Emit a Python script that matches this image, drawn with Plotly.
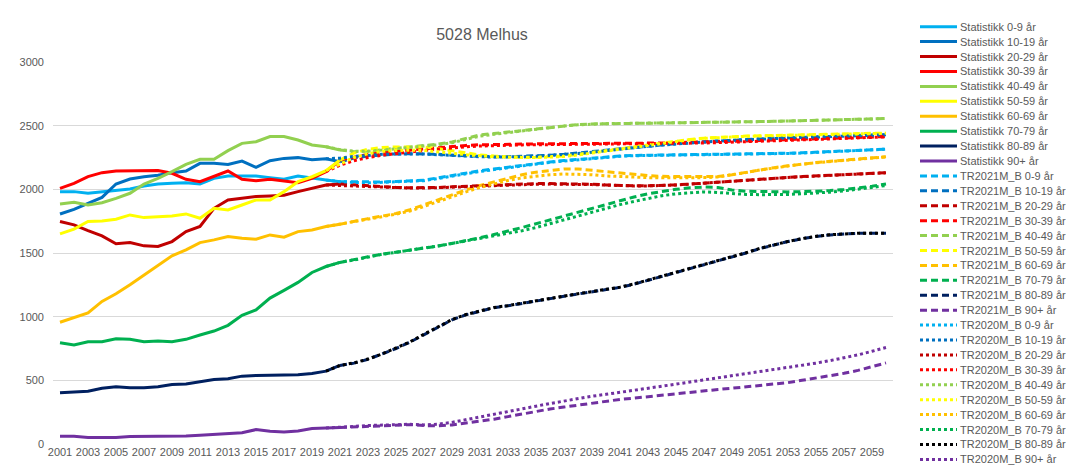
import plotly.graph_objects as go

# ---------------- data ----------------
years_stat = list(range(2001, 2022))
years_tr2021 = list(range(2021, 2061))
years_tr2020 = list(range(2020, 2061))

stat_0_9 = [1982, 1982, 1969, 1982, 1990, 2003, 2026, 2042, 2047, 2052, 2042, 2086, 2105, 2107, 2105, 2092, 2079, 2105, 2086, 2073, 2060]
stat_10_19 = [1806, 1843, 1890, 1937, 2042, 2081, 2099, 2110, 2131, 2144, 2204, 2204, 2196, 2222, 2173, 2225, 2243, 2249, 2232, 2240, 2217]
stat_20_29 = [1747, 1721, 1676, 1634, 1572, 1582, 1556, 1551, 1590, 1668, 1708, 1851, 1916, 1930, 1943, 1948, 1953, 1982, 2008, 2034, 2042]
stat_30_39 = [2008, 2047, 2100, 2131, 2144, 2144, 2147, 2147, 2126, 2079, 2060, 2105, 2144, 2079, 2068, 2079, 2065, 2052, 2086, 2139, 2230]
stat_40_49 = [1885, 1898, 1877, 1895, 1929, 1969, 2042, 2086, 2139, 2196, 2236, 2236, 2304, 2361, 2374, 2414, 2414, 2387, 2348, 2335, 2309]
stat_50_59 = [1650, 1687, 1747, 1752, 1765, 1799, 1778, 1786, 1791, 1807, 1773, 1851, 1838, 1877, 1916, 1916, 1982, 2060, 2099, 2146, 2230]
stat_60_69 = [956, 990, 1029, 1120, 1180, 1251, 1326, 1407, 1478, 1525, 1582, 1603, 1629, 1616, 1608, 1642, 1624, 1668, 1681, 1708, 1726]
stat_70_79 = [795, 777, 803, 803, 827, 822, 803, 808, 803, 822, 856, 887, 932, 1011, 1053, 1146, 1206, 1269, 1347, 1394, 1426]
stat_80_89 = [402, 407, 415, 438, 449, 441, 441, 449, 467, 472, 491, 507, 512, 533, 538, 538, 543, 543, 554, 572, 617]
stat_90 = [60, 60, 52, 52, 52, 58, 58, 63, 58, 63, 68, 74, 81, 89, 113, 100, 95, 102, 121, 126, 129]

tr21_0_9 = [2060, 2058, 2056, 2058, 2062, 2066, 2072, 2090, 2110, 2130, 2146, 2160, 2175, 2190, 2204, 2215, 2226, 2236, 2246, 2255,
            2262, 2266, 2269, 2271, 2272, 2273, 2274, 2275, 2276, 2277, 2279, 2281, 2284, 2287, 2291, 2296, 2301, 2306, 2311, 2316]
tr21_10_19 = [2217, 2245, 2262, 2272, 2277, 2280, 2280, 2275, 2268, 2262, 2258, 2256, 2256, 2258, 2262, 2268, 2275, 2284, 2294, 2307,
              2318, 2329, 2340, 2350, 2359, 2367, 2374, 2381, 2387, 2393, 2397, 2401, 2405, 2409, 2413, 2416, 2420, 2423, 2427, 2430]
tr21_20_29 = [2042, 2035, 2025, 2020, 2015, 2012, 2012, 2015, 2020, 2025, 2030, 2035, 2040, 2042, 2045, 2045, 2045, 2042, 2040, 2035,
              2030, 2028, 2028, 2030, 2035, 2042, 2050, 2058, 2066, 2075, 2082, 2088, 2094, 2100, 2106, 2112, 2118, 2122, 2127, 2131]
tr21_30_39 = [2230, 2255, 2275, 2290, 2300, 2310, 2320, 2330, 2338, 2345, 2350, 2353, 2355, 2356, 2357, 2358, 2358, 2359, 2360, 2360,
              2361, 2362, 2363, 2364, 2366, 2368, 2370, 2373, 2376, 2380, 2383, 2387, 2390, 2394, 2397, 2401, 2404, 2408, 2411, 2414]
tr21_40_49 = [2309, 2296, 2300, 2310, 2322, 2332, 2340, 2355, 2372, 2400, 2428, 2438, 2450, 2462, 2475, 2487, 2500, 2508, 2514, 2517,
              2518, 2518, 2519, 2520, 2520, 2522, 2524, 2526, 2528, 2530, 2532, 2534, 2536, 2538, 2540, 2543, 2546, 2549, 2553, 2558]
tr21_50_59 = [2230, 2285, 2315, 2328, 2333, 2335, 2332, 2320, 2302, 2284, 2270, 2261, 2255, 2252, 2252, 2256, 2262, 2275, 2290, 2307,
              2322, 2337, 2352, 2367, 2380, 2392, 2402, 2409, 2414, 2418, 2421, 2424, 2427, 2429, 2432, 2434, 2436, 2438, 2440, 2442]
tr21_60_69 = [1726, 1750, 1770, 1790, 1810, 1840, 1880, 1920, 1960, 1995, 2030, 2060, 2090, 2115, 2135, 2150, 2160, 2160, 2150, 2135,
              2125, 2115, 2108, 2102, 2100, 2098, 2098, 2100, 2115, 2135, 2155, 2170, 2185, 2200, 2210, 2220, 2230, 2240, 2248, 2256]
tr21_70_79 = [1426, 1445, 1470, 1490, 1505, 1525, 1540, 1555, 1575, 1595, 1620, 1645, 1670, 1700, 1730, 1760, 1795, 1825, 1855, 1880,
              1910, 1940, 1965, 1985, 2000, 2012, 2018, 2015, 1995, 1985, 1982, 1980, 1980, 1982, 1985, 1990, 1998, 2010, 2025, 2042]
tr21_80_89 = [617, 635, 665, 705, 750, 800, 860, 920, 975, 1015, 1045, 1070, 1085, 1105, 1125, 1145, 1160, 1178, 1195, 1210,
              1230, 1255, 1285, 1315, 1345, 1375, 1410, 1440, 1470, 1500, 1535, 1565, 1590, 1612, 1630, 1642, 1650, 1655, 1655, 1655]
tr21_90 = [129, 134, 139, 145, 152, 152, 145, 142, 150, 163, 180, 195, 215, 237, 258, 275, 290, 305, 322, 338,
           350, 360, 372, 382, 393, 405, 418, 428, 438, 448, 458, 468, 482, 500, 518, 535, 555, 578, 605, 637]

tr20_0_9 = [2073, 2060, 2055, 2052, 2055, 2058, 2062, 2068, 2085, 2105, 2125, 2140, 2155, 2170, 2185, 2200, 2212, 2222, 2232, 2242, 2252,
            2260, 2264, 2267, 2269, 2270, 2271, 2272, 2273, 2274, 2275, 2277, 2279, 2282, 2285, 2289, 2294, 2299, 2304, 2310, 2316]
tr20_10_19 = [2240, 2245, 2258, 2268, 2275, 2278, 2280, 2278, 2272, 2266, 2260, 2256, 2254, 2254, 2256, 2260, 2266, 2273, 2282, 2292, 2305,
              2316, 2327, 2338, 2348, 2357, 2365, 2372, 2379, 2385, 2391, 2395, 2399, 2403, 2407, 2411, 2414, 2418, 2421, 2425, 2428]
tr20_20_29 = [2034, 2030, 2025, 2020, 2015, 2012, 2010, 2010, 2012, 2016, 2020, 2025, 2030, 2034, 2037, 2040, 2041, 2041, 2040, 2037, 2033,
              2029, 2027, 2027, 2029, 2034, 2041, 2049, 2057, 2065, 2074, 2081, 2087, 2093, 2099, 2105, 2111, 2117, 2121, 2126, 2130]
tr20_30_39 = [2139, 2190, 2225, 2250, 2268, 2282, 2294, 2305, 2316, 2326, 2334, 2340, 2344, 2347, 2349, 2350, 2351, 2351, 2352, 2352, 2352,
              2353, 2354, 2355, 2356, 2358, 2361, 2364, 2367, 2370, 2372, 2376, 2380, 2384, 2388, 2392, 2396, 2400, 2404, 2408, 2412]
tr20_40_49 = [2335, 2312, 2300, 2300, 2308, 2318, 2328, 2337, 2350, 2366, 2390, 2418, 2432, 2446, 2460, 2473, 2486, 2498, 2507, 2513, 2516,
              2517, 2518, 2519, 2520, 2520, 2522, 2524, 2526, 2528, 2530, 2532, 2534, 2536, 2538, 2540, 2543, 2546, 2549, 2553, 2557]
tr20_50_59 = [2146, 2200, 2250, 2280, 2298, 2305, 2308, 2305, 2296, 2284, 2272, 2262, 2256, 2252, 2250, 2250, 2253, 2258, 2270, 2285, 2303,
              2320, 2335, 2350, 2365, 2378, 2390, 2400, 2407, 2412, 2416, 2419, 2422, 2425, 2427, 2430, 2432, 2434, 2436, 2438, 2440]
tr20_60_69 = [1708, 1726, 1745, 1765, 1785, 1805, 1830, 1865, 1905, 1945, 1980, 2015, 2045, 2070, 2090, 2105, 2115, 2120, 2120, 2115, 2105,
              2099, 2095, 2092, 2090, 2090, 2090, 2092, 2097, 2112, 2132, 2152, 2168, 2183, 2198, 2208, 2218, 2228, 2238, 2246, 2254]
tr20_70_79 = [1394, 1426, 1445, 1470, 1490, 1505, 1525, 1540, 1555, 1575, 1595, 1610, 1630, 1650, 1675, 1700, 1730, 1765, 1795, 1825, 1850,
              1880, 1905, 1930, 1950, 1965, 1975, 1980, 1975, 1965, 1960, 1958, 1958, 1960, 1965, 1970, 1978, 1988, 2000, 2015, 2030]
tr20_80_89 = [572, 617, 637, 667, 707, 752, 802, 862, 922, 977, 1017, 1047, 1072, 1087, 1107, 1127, 1147, 1162, 1180, 1197, 1212,
              1232, 1257, 1287, 1317, 1347, 1377, 1412, 1442, 1472, 1502, 1537, 1566, 1591, 1613, 1631, 1643, 1651, 1656, 1656, 1656]
tr20_90 = [126, 130, 138, 145, 150, 155, 155, 150, 155, 170, 192, 215, 235, 255, 278, 297, 318, 338, 355, 375, 390,
           405, 420, 437, 453, 470, 487, 503, 520, 537, 552, 568, 585, 600, 618, 635, 655, 675, 700, 728, 758]

age_groups = ["0-9 år", "10-19 år", "20-29 år", "30-39 år", "40-49 år", "50-59 år", "60-69 år", "70-79 år", "80-89 år", "90+ år"]
stat_series = [stat_0_9, stat_10_19, stat_20_29, stat_30_39, stat_40_49, stat_50_59, stat_60_69, stat_70_79, stat_80_89, stat_90]
tr21_series = [tr21_0_9, tr21_10_19, tr21_20_29, tr21_30_39, tr21_40_49, tr21_50_59, tr21_60_69, tr21_70_79, tr21_80_89, tr21_90]
tr20_series = [tr20_0_9, tr20_10_19, tr20_20_29, tr20_30_39, tr20_40_49, tr20_50_59, tr20_60_69, tr20_70_79, tr20_80_89, tr20_90]
tick_years = list(range(2001, 2060, 2))
y_ticks = [0, 500, 1000, 1500, 2000, 2500, 3000]

# ---------------- style ----------------
colors = ["#00B0F0", "#0070C0", "#C00000", "#FF0000", "#92D050", "#FFFF00", "#FFC000", "#00B050", "#002060", "#7030A0"]
colors_tr20 = colors[:8] + ["#000000", "#7030A0"]
DASH = "7px,4px"
DOT = "3px,3px"
LW = 3
FONT = "Liberation Sans"
GREY = "#595959"

W, H = 1066, 470
L, R, T, B = 53, 173, 62, 26
PW, PH = W - L - R, H - T - B

fig = go.Figure()
for name, vals, col in zip(age_groups, stat_series, colors):
    fig.add_trace(go.Scatter(x=years_stat, y=vals, mode="lines", name="Statistikk " + name,
                             line=dict(color=col, width=LW), showlegend=False))
for name, vals, col in zip(age_groups, tr21_series, colors):
    fig.add_trace(go.Scatter(x=years_tr2021, y=vals, mode="lines", name="TR2021M_B " + name,
                             line=dict(color=col, width=LW, dash=DASH), showlegend=False))
for name, vals, col in zip(age_groups, tr20_series, colors_tr20):
    fig.add_trace(go.Scatter(x=years_tr2020, y=vals, mode="lines", name="TR2020M_B " + name,
                             line=dict(color=col, width=LW, dash=DOT), showlegend=False))

# ---------------- custom legend (compact, like the original) ----------------
legend_entries = ([("Statistikk " + a, c, "solid") for a, c in zip(age_groups, colors)] +
                  [("TR2021M_B " + a, c, DASH) for a, c in zip(age_groups, colors)] +
                  [("TR2020M_B " + a, c, DOT) for a, c in zip(age_groups, colors_tr20)])

def px_x(px):
    return (px - L) / PW

def px_y(py):
    return (H - B - py) / PH

shapes = []
annotations = []
y0, step = 26.7, 14.92
for i, (label, col, dash) in enumerate(legend_entries):
    py = y0 + i * step
    shapes.append(dict(type="line", xref="paper", yref="paper",
                       x0=px_x(920), x1=px_x(957), y0=px_y(py), y1=px_y(py),
                       line=dict(color=col, width=LW, dash=dash)))
    annotations.append(dict(text=label, xref="paper", yref="paper", x=px_x(958), y=px_y(py),
                            xanchor="left", yanchor="middle", showarrow=False,
                            font=dict(family=FONT, size=11, color=GREY)))

fig.update_layout(
    width=W, height=H,
    margin=dict(l=L, r=R, t=T, b=B, autoexpand=False),
    paper_bgcolor="white", plot_bgcolor="white",
    title=dict(text="5028 Melhus", x=482 / W, xref="container", xanchor="center",
               y=1 - 34 / H, yanchor="middle", yref="container",
               font=dict(family=FONT, size=16, color=GREY)),
    xaxis=dict(range=[2000.5, 2060.5], tickvals=tick_years, ticktext=[str(y) for y in tick_years],
               showgrid=False, zeroline=False, showline=False, ticks="",
               tickfont=dict(family=FONT, size=11, color=GREY), tickangle=0, fixedrange=True),
    yaxis=dict(range=[0, 3000], tickvals=y_ticks, showgrid=True, gridcolor="#D9D9D9", gridwidth=1,
               zeroline=False, showline=False, ticks="", ticklabelstandoff=8,
               tickfont=dict(family=FONT, size=11, color=GREY), fixedrange=True),
    shapes=shapes, annotations=annotations,
    showlegend=False,
)

fig.write_html("out.html", config={"displayModeBar": False},
               post_script="document.body.style.margin='0px';")
